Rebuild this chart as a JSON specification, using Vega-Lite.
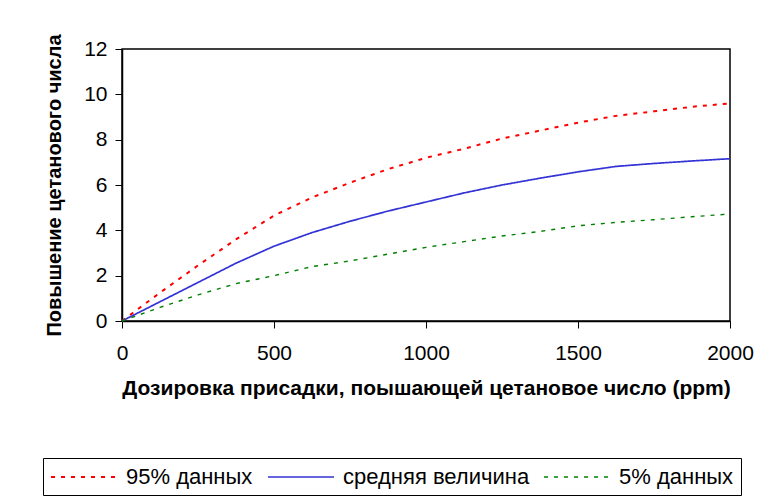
{
  "$schema": "https://vega.github.io/schema/vega-lite/v6.json",
  "autosize": "none",
  "width": 608,
  "height": 272,
  "padding": {"left": 122, "top": 49, "right": 41, "bottom": 181},
  "background": "white",
  "config": {
    "font": "Liberation Sans",
    "view": {"stroke": "#000000", "strokeWidth": 1.5},
    "axis": {"grid": false, "domainColor": "#000000", "domainWidth": 1.5, "tickColor": "#000000", "tickWidth": 1, "tickSize": 7, "labelFont": "Liberation Sans", "labelFontSize": 21, "labelColor": "#000000", "titleFont": "Liberation Sans", "titleFontWeight": "bold", "titleColor": "#000000"}
  },
  "data": {"values": [
    {"ppm": 0, "series": "95% данных", "value": 0},
    {"ppm": 125, "series": "95% данных", "value": 1.25},
    {"ppm": 250, "series": "95% данных", "value": 2.45},
    {"ppm": 375, "series": "95% данных", "value": 3.6},
    {"ppm": 500, "series": "95% данных", "value": 4.65},
    {"ppm": 625, "series": "95% данных", "value": 5.45},
    {"ppm": 750, "series": "95% данных", "value": 6.1},
    {"ppm": 875, "series": "95% данных", "value": 6.7},
    {"ppm": 1000, "series": "95% данных", "value": 7.2},
    {"ppm": 1125, "series": "95% данных", "value": 7.6},
    {"ppm": 1250, "series": "95% данных", "value": 8.05},
    {"ppm": 1375, "series": "95% данных", "value": 8.4},
    {"ppm": 1500, "series": "95% данных", "value": 8.75},
    {"ppm": 1625, "series": "95% данных", "value": 9.05},
    {"ppm": 1750, "series": "95% данных", "value": 9.25},
    {"ppm": 1875, "series": "95% данных", "value": 9.45},
    {"ppm": 2000, "series": "95% данных", "value": 9.6},
    {"ppm": 0, "series": "средняя величина", "value": 0},
    {"ppm": 125, "series": "средняя величина", "value": 0.85},
    {"ppm": 250, "series": "средняя величина", "value": 1.7},
    {"ppm": 375, "series": "средняя величина", "value": 2.55},
    {"ppm": 500, "series": "средняя величина", "value": 3.3},
    {"ppm": 625, "series": "средняя величина", "value": 3.9},
    {"ppm": 750, "series": "средняя величина", "value": 4.4},
    {"ppm": 875, "series": "средняя величина", "value": 4.85},
    {"ppm": 1000, "series": "средняя величина", "value": 5.25},
    {"ppm": 1125, "series": "средняя величина", "value": 5.65},
    {"ppm": 1250, "series": "средняя величина", "value": 6.0},
    {"ppm": 1375, "series": "средняя величина", "value": 6.3},
    {"ppm": 1500, "series": "средняя величина", "value": 6.58},
    {"ppm": 1625, "series": "средняя величина", "value": 6.82},
    {"ppm": 1750, "series": "средняя величина", "value": 6.95},
    {"ppm": 1875, "series": "средняя величина", "value": 7.06},
    {"ppm": 2000, "series": "средняя величина", "value": 7.16},
    {"ppm": 0, "series": "5% данных", "value": 0},
    {"ppm": 125, "series": "5% данных", "value": 0.6},
    {"ppm": 250, "series": "5% данных", "value": 1.15},
    {"ppm": 375, "series": "5% данных", "value": 1.65},
    {"ppm": 500, "series": "5% данных", "value": 2.0},
    {"ppm": 625, "series": "5% данных", "value": 2.4},
    {"ppm": 750, "series": "5% данных", "value": 2.65},
    {"ppm": 875, "series": "5% данных", "value": 2.95},
    {"ppm": 1000, "series": "5% данных", "value": 3.25},
    {"ppm": 1125, "series": "5% данных", "value": 3.5},
    {"ppm": 1250, "series": "5% данных", "value": 3.75},
    {"ppm": 1375, "series": "5% данных", "value": 3.95},
    {"ppm": 1500, "series": "5% данных", "value": 4.2},
    {"ppm": 1625, "series": "5% данных", "value": 4.35},
    {"ppm": 1750, "series": "5% данных", "value": 4.47},
    {"ppm": 1875, "series": "5% данных", "value": 4.6},
    {"ppm": 2000, "series": "5% данных", "value": 4.72}
  ]},
  "mark": {"type": "line", "clip": false},
  "encoding": {
    "x": {"field": "ppm", "type": "quantitative", "scale": {"domain": [0, 2000], "nice": false},
      "axis": {"values": [0, 500, 1000, 1500, 2000], "format": "d", "labelPadding": 14, "title": "Дозировка присадки, поышающей цетановое число (ppm)", "titleFontSize": 21, "titlePadding": 14, "labelFlush": false}},
    "y": {"field": "value", "type": "quantitative", "scale": {"domain": [0, 12], "nice": false},
      "axis": {"values": [0, 2, 4, 6, 8, 10, 12], "labelPadding": 8, "title": "Повышение цетанового числа", "titleFontSize": 20, "titlePadding": 19}},
    "color": {"field": "series", "type": "nominal", "sort": ["95% данных", "средняя величина", "5% данных"],
      "scale": {"domain": ["95% данных", "средняя величина", "5% данных"], "range": ["#FF0000", "#3333D6", "#008000"]},
      "legend": {"title": null, "orient": "none", "legendX": -79, "legendY": 409, "direction": "horizontal", "columns": 3,
        "symbolType": "M-1,0H5", "symbolSize": 484, "symbolStrokeWidth": 2, "labelFontSize": 22, "labelFont": "Liberation Sans", "labelColor": "#000000", "labelOffset": 52, "labelLimit": 400, "columnPadding": 11,
        "strokeColor": "#000000", "fillColor": "#FFFFFF", "padding": 7}},
    "strokeDash": {"field": "series", "type": "nominal", "sort": ["95% данных", "средняя величина", "5% данных"],
      "scale": {"domain": ["95% данных", "средняя величина", "5% данных"], "range": [[4, 6], [1, 0], [4, 6]]}},
    "strokeWidth": {"field": "series", "type": "nominal", "sort": ["95% данных", "средняя величина", "5% данных"],
      "scale": {"domain": ["95% данных", "средняя величина", "5% данных"], "range": [2, 1.4, 2]}}
  }
}
